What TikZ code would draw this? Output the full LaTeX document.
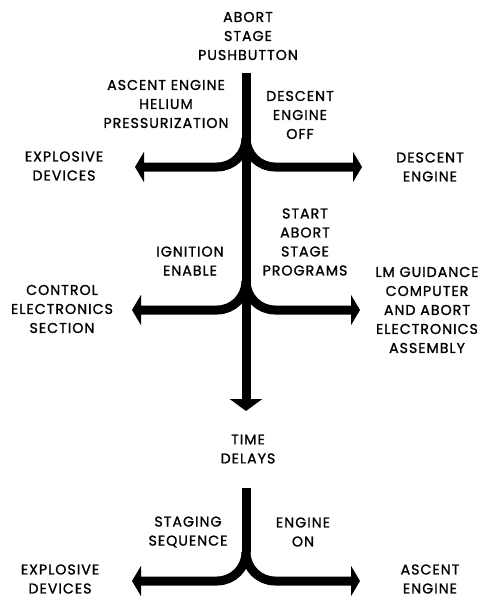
\documentclass[tikz,border=0pt]{standalone}
\usepackage{fontspec}
\setmainfont{Poppins}[LetterSpace=7,FakeBold=1.2]
\usetikzlibrary{arrows.meta}
\begin{document}
\begin{tikzpicture}[x=1pt,y=-1pt,
  lbl/.style={align=center,inner sep=0pt,font=\fontsize{14.2pt}{19pt}\selectfont},
  conn/.style={line width=9pt,line cap=butt},
  sidearrow/.style={conn,-{Triangle[length=9pt,width=30pt]}},
  downarrow/.style={conn,-{Triangle[length=12pt,width=32pt]}}]
\useasboundingbox (0,0) rectangle (487,599);
% texts
\node[lbl] (pb) at (248,36) {ABORT\\STAGE\\PUSHBUTTON};
\node[lbl] (aehp) at (166,104) {ASCENT ENGINE\\HELIUM\\PRESSURIZATION};
\node[lbl] (deo) at (300,115) {DESCENT\\ENGINE\\OFF};
\node[lbl] (ed1) at (64,166) {EXPLOSIVE\\DEVICES};
\node[lbl] (de) at (430,167) {DESCENT\\ENGINE};
\node[lbl] (saps) at (305,242) {START\\ABORT\\STAGE\\PROGRAMS};
\node[lbl] (ie) at (190,261) {IGNITION\\ENABLE};
\node[lbl] (ces) at (62,309) {CONTROL\\ELECTRONICS\\SECTION};
\node[lbl] (lmg) at (427,310) {LM GUIDANCE\\COMPUTER\\AND ABORT\\ELECTRONICS\\ASSEMBLY};
\node[lbl] (td) at (248,449) {TIME\\DELAYS};
\node[lbl] (ss) at (188,532) {STAGING\\SEQUENCE};
\node[lbl] (eo) at (303,532) {ENGINE\\ON};
\node[lbl] (ed2) at (60,579) {EXPLOSIVE\\DEVICES};
\node[lbl] (ae) at (430,579) {ASCENT\\ENGINE};
% coordinates
\coordinate (s1) at (246,73);
\coordinate (s1e) at (246,411);
\coordinate (j1) at (246,138);
\coordinate (c1l) at (217,167);
\coordinate (c1r) at (275,167);
\coordinate (t1l) at (135,167);
\coordinate (t1r) at (362,167);
\coordinate (j2) at (246,281);
\coordinate (c2l) at (217,310);
\coordinate (c2r) at (275,310);
\coordinate (t2l) at (132,310);
\coordinate (t2r) at (360,310);
\coordinate (s3) at (246,488);
\coordinate (j3) at (246,552);
\coordinate (c3l) at (217,581);
\coordinate (c3r) at (275,581);
\coordinate (t3l) at (132,581);
\coordinate (t3r) at (360,581);
% connectors
\draw[downarrow] (s1) -- (s1e);
\draw[sidearrow] (j1) to[out=-90,in=0] (c1l) -- (t1l);
\draw[sidearrow] (j1) to[out=-90,in=180] (c1r) -- (t1r);
\draw[sidearrow] (j2) to[out=-90,in=0] (c2l) -- (t2l);
\draw[sidearrow] (j2) to[out=-90,in=180] (c2r) -- (t2r);
\draw[conn] (s3) -- (j3);
\draw[sidearrow] (j3) to[out=-90,in=0] (c3l) -- (t3l);
\draw[sidearrow] (j3) to[out=-90,in=180] (c3r) -- (t3r);
\end{tikzpicture}
\end{document}
